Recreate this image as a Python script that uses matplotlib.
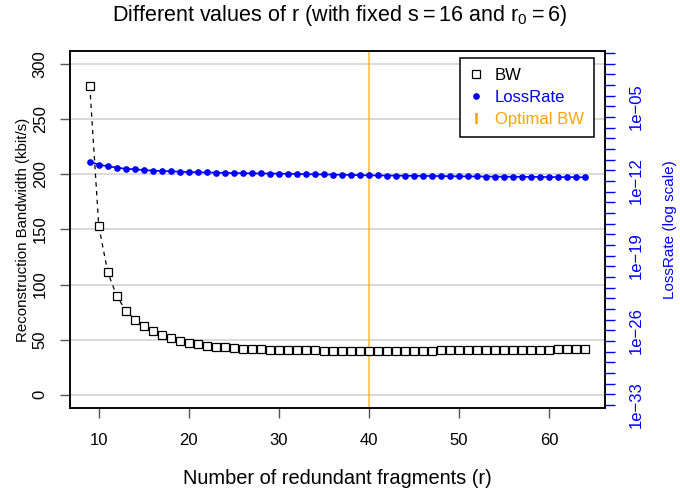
import numpy as np
import matplotlib
matplotlib.use('Agg')
import matplotlib.pyplot as plt
from matplotlib.lines import Line2D

plt.rcParams['font.family'] = ['Liberation Sans', 'DejaVu Sans']

#
# data
#
r = list(range(9, 65))

bw = [280, 153, 111, 89.5, 76.4, 68.3, 62.3, 57.7, 54.4, 51.4,
      49.2, 47.4, 45.9, 44.6, 43.8, 43.1, 42.5, 42.0, 41.6, 41.3,
      41.0, 40.8, 40.6, 40.4, 40.3, 40.2, 40.1, 40.0, 40.0, 39.9,
      39.9, 39.8, 39.9, 39.9, 39.9, 40.0, 40.0, 40.1, 40.1, 40.2,
      40.2, 40.3, 40.4, 40.4, 40.5, 40.6, 40.6, 40.7, 40.8, 40.9,
      40.9, 41.0, 41.1, 41.2, 41.2, 41.3]

lossrate = [6.5e-11, 3.4e-11, 2.4e-11, 1.8e-11, 1.4e-11, 1.26e-11, 1.07e-11, 9.3e-12,
            8.7e-12, 8.1e-12, 7.4e-12, 6.9e-12, 6.6e-12, 6.3e-12, 6.1e-12, 5.8e-12,
            5.6e-12, 5.4e-12, 5.2e-12, 5.1e-12, 5.0e-12, 4.9e-12, 4.7e-12, 4.5e-12,
            4.4e-12, 4.2e-12, 4.1e-12, 4.0e-12, 3.8e-12, 3.7e-12, 3.5e-12, 3.4e-12,
            3.3e-12, 3.25e-12, 3.2e-12, 3.1e-12, 3.05e-12, 3.0e-12, 2.95e-12, 2.9e-12,
            2.8e-12, 2.75e-12, 2.72e-12, 2.68e-12, 2.64e-12, 2.6e-12, 2.56e-12, 2.52e-12,
            2.48e-12, 2.44e-12, 2.4e-12, 2.36e-12, 2.33e-12, 2.3e-12, 2.27e-12, 2.24e-12]

optimal_r = 40

bw_ticks = [0, 50, 100, 150, 200, 250, 300]
x_ticks = [10, 20, 30, 40, 50, 60]
loss_decades = list(range(0, -34, -1))
loss_labeled = [-5, -12, -19, -26, -33]

#
# figure
#
fig = plt.figure(figsize=(6.8, 4.93), dpi=100)
ax = fig.add_axes([0.1029, 0.1724, 0.7868, 0.7242])

# grid + optimal line
for v in bw_ticks:
    ax.axhline(v, color='#d3d3d3', lw=1.2, zorder=0)
ax.axvline(optimal_r, color='orange', alpha=0.6, lw=1.5, zorder=1)

ax.plot(r, bw, color='black', lw=0.9, dashes=(3.5, 3.5), zorder=2)
ax.plot(r, bw, ls='none', marker='s', ms=5.3, mfc='white', mec='black', mew=0.9, zorder=3)

ax.set_xlim(6.8, 66.2)
ax.set_ylim(-12, 312)
ax.set_xticks(x_ticks)
ax.set_yticks(bw_ticks)
ax.set_yticklabels([str(v) for v in bw_ticks], rotation=90, va='center')
ax.tick_params(axis='both', direction='out', length=7, width=1, color='#555555',
               labelsize=12, pad=4)
ax.tick_params(axis='x', pad=11)
ax.tick_params(axis='y', pad=9)
ax.set_xlabel('Number of redundant fragments (r)', fontsize=14.4, labelpad=15)
ax.set_ylabel('Reconstruction Bandwidth (kbit/s)', fontsize=10.8, labelpad=2)

# right axis : log scale
ax2 = ax.twinx()
ax2.plot(r, lossrate, color='blue', lw=1.2, zorder=2)
ax2.plot(r, lossrate, ls='none', marker='o', ms=3.8, mfc='blue', mec='blue', zorder=3)
ax2.set_yscale('log')
ax2.set_ylim(10 ** -33.28, 10 ** 0.19)
ax2.set_yticks([10.0 ** d for d in loss_decades])
ax2.set_yticklabels(['1e\u2212%02d' % -d if d in loss_labeled else '' for d in loss_decades],
                    rotation=90, va='center')
ax2.minorticks_off()
ax2.tick_params(axis='y', direction='out', length=7, width=1, color='blue',
                labelcolor='blue', labelsize=12, pad=10)
ax2.set_ylabel('LossRate (log scale)', color='blue', fontsize=11, labelpad=14)

for a in (ax, ax2):
    for s in a.spines.values():
        s.set_linewidth(1.1)
        s.set_color('black')

handles = [Line2D([], [], ls='none', marker='s', ms=5.3, mfc='white', mec='black', mew=0.9),
           Line2D([], [], ls='none', marker='o', ms=3.8, color='blue'),
           Line2D([], [], ls='none', marker=r'$\mathregular{!}$', ms=7, color='orange')]
leg = ax2.legend(handles, ['BW', 'LossRate', 'Optimal BW'], loc='upper right',
                 bbox_to_anchor=(0.979, 0.98), fancybox=False, framealpha=1,
                 edgecolor='black', fontsize=12, handlelength=0.8, handletextpad=0.7,
                 borderpad=0.6, labelspacing=0.42, borderaxespad=0)
leg.get_frame().set_linewidth(1.1)
for t, c in zip(leg.get_texts(), ['black', 'blue', 'orange']):
    t.set_color(c)

fig.suptitle(r'Different values of r (with fixed $\mathregular{s=16}$ and $\mathregular{r_0=6}$)',
             fontsize=15.5, y=0.993)

fig.savefig('out.png', dpi=100)
